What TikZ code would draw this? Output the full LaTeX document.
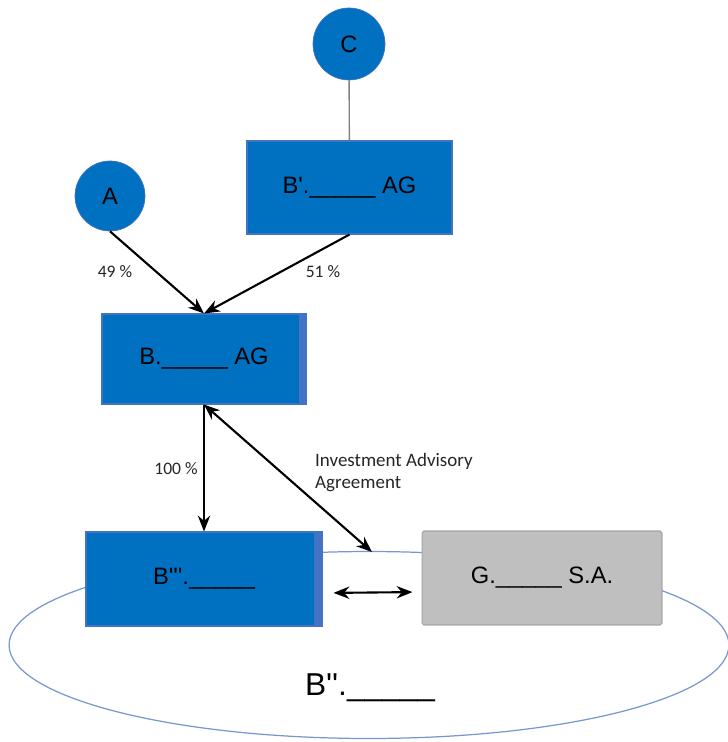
\documentclass[tikz,border=0pt]{standalone}
\usepackage{fontspec}
\setmainfont{Liberation Sans}
\newfontfamily\calibri{Carlito}
\usetikzlibrary{arrows.meta}

\definecolor{boxblue}{RGB}{0,112,192}
\definecolor{edgeblue}{RGB}{68,114,196}
\definecolor{ringblue}{RGB}{120,150,210}

\tikzset{
  entity/.style={draw=edgeblue, fill=boxblue, line width=0.6pt, minimum width=4.1cm, minimum height=1.86cm, font=\fontsize{13.5}{16}\selectfont},
  holder/.style={circle, draw=edgeblue, fill=boxblue, inner sep=0pt, minimum size=1.44cm, font=\fontsize{13.5}{16}\selectfont},
  own/.style={-{Stealth[length=9pt,width=7pt]}, line width=1.2pt},
  both/.style={{Stealth[length=9pt,width=7pt]}-{Stealth[length=9pt,width=7pt]}, line width=1.2pt},
  share/.style={font=\calibri\fontsize{10}{12}\selectfont, text=black!85}
}

\begin{document}
\begin{tikzpicture}[x=0.02cm, y=-0.02cm]
\useasboundingbox (0,0) rectangle (727,742);

% the group round the two companies
\draw[ringblue, line width=0.7pt] (369,645) ellipse [x radius=7.2cm, y radius=1.87cm];
\node (grp) at (370,688) {\fontsize{18}{21}\selectfont B\textquotesingle\textquotesingle.\_\_\_\_\_};

% holders and companies
\node[holder] (C) at (349,44) {C};
\node[entity] (Bp) at (349.5,187.5) {B\textquotesingle.\_\_\_\_\_ AG};
\node[holder, minimum size=1.4cm] (A) at (110,196) {A};
\node[entity, minimum width=4.08cm, minimum height=1.8cm] (B) at (204,359) {B.\_\_\_\_\_ AG};
\node[entity, minimum width=4.72cm, minimum height=1.88cm] (Btr) at (204,579) {B\textquotesingle\textquotesingle\textquotesingle.\_\_\_\_\_};
\node[entity, draw=gray!70, fill=gray!50, rounded corners=1pt, minimum width=4.8cm, minimum height=1.88cm] (G) at (542,578) {G.\_\_\_\_\_ S.A.};
\fill[edgeblue] ([xshift=-0.16cm]B.north east) rectangle (B.south east);
\fill[edgeblue] ([xshift=-0.18cm]Btr.north east) rectangle (Btr.south east);

% shares
\draw[gray, line width=0.8pt] (C) -- (Bp);
\draw[own] (A.south) -- (B.north);
\draw[own] (Bp.south) -- (B.north);
\draw[own] (B.south) -- (Btr.north);
\node[share] (pa) at (115,272) {49 \%};
\node[share] (pb) at (323,272) {51 \%};
\node[share] (pc) at (176,469) {100 \%};

% agreement
\coordinate (iaend) at (372,552);
\draw[both] (B.south) -- (iaend);
\draw[both, shorten <=0.22cm, shorten >=0.18cm] ([yshift=-0.28cm]Btr.east) -- ([yshift=-0.28cm]G.west);
\node[share, anchor=north west, align=left, font=\calibri\fontsize{10.8}{12.5}\selectfont] (ia) at (309,447) {Investment Advisory\\Agreement};
\end{tikzpicture}
\end{document}
